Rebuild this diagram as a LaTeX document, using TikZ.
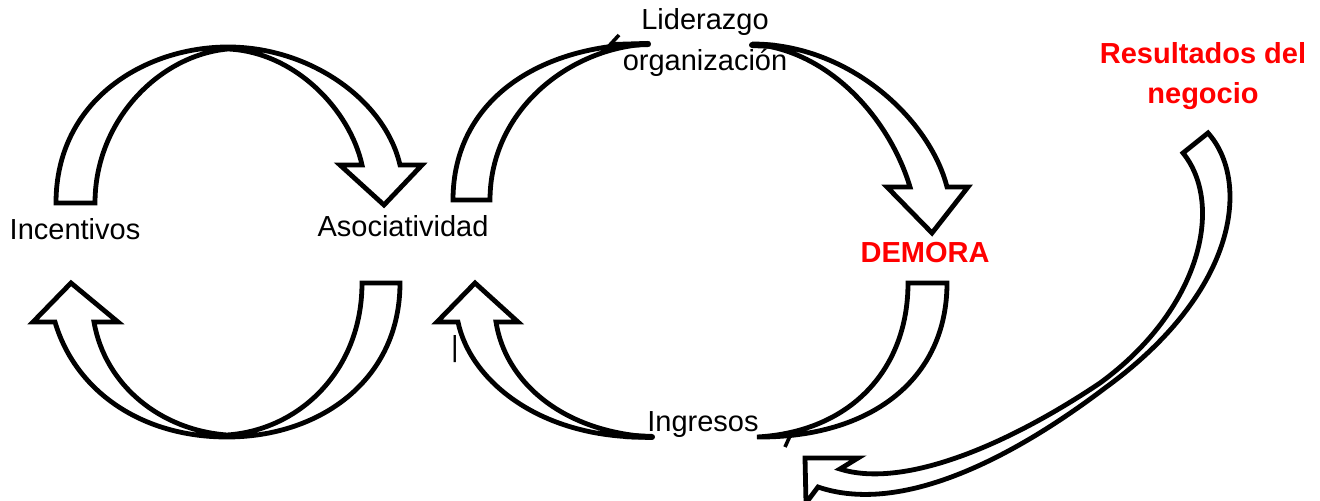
\documentclass[tikz,border=0pt]{standalone}
\usepackage{fontspec}
\setmainfont{Liberation Sans}
\begin{document}
\begin{tikzpicture}[x=0.5pt,y=-0.5pt,
  blockarrow/.style={draw=black,fill=white,line width=2.4pt,line join=miter},
  lbl/.style={font=\fontsize{14.5}{20.5}\selectfont,inner sep=0pt,anchor=base},
  redlbl/.style={lbl,font=\fontsize{14.5}{20}\selectfont\bfseries,text=red}]
\useasboundingbox (0,0) rectangle (1320,501);
\clip (0,0) rectangle (1320,501);
% Arrow 1: Incentivos -> Asociatividad (top left)
\draw[blockarrow] (56,203) .. controls (56,100) and (145,47) .. (228,47)
  .. controls (310,47) and (385,100) .. (400,165) -- (422,165) -- (384,205) -- (340,165) -- (362,165)
  .. controls (350,110) and (295,52) .. (228,49)
  .. controls (160,55) and (95,120) .. (95,203) -- cycle;
% Arrow 2: Asociatividad -> Incentivos (bottom left)
\draw[blockarrow] (400,283) .. controls (400,380) and (320,437) .. (227,437)
  .. controls (140,437) and (75,390) .. (55,322) -- (33,322) -- (71,283) -- (118,322) -- (94,322)
  .. controls (105,385) and (160,430) .. (227,435)
  .. controls (300,430) and (362,370) .. (362,283) -- cycle;
% Arrow 3: Asociatividad -> Liderazgo
\draw[blockarrow] (453,200) .. controls (453,100) and (540,44) .. (650,44)
  .. controls (570,47) and (490,110) .. (490,200) -- cycle;
\draw[line width=1.8pt] (608,47) -- (619,35);
\draw[line width=3pt,line cap=round] (615,45) -- (648,44);
% Arrow 4: Liderazgo -> DEMORA
\draw[blockarrow] (752,44) .. controls (850,44) and (930,120) .. (947,187) -- (968,187) -- (932,233) -- (887,187) -- (910,187)
  .. controls (890,120) and (830,50) .. (752,44) -- cycle;
\draw[line width=3pt,line cap=round] (752,45) -- (775,46);
% Arrow 5: DEMORA -> Ingresos
\draw[blockarrow] (947,283) .. controls (947,380) and (870,438) .. (757,437)
  .. controls (850,432) and (908,370) .. (908,283) -- cycle;
\draw[line width=1.8pt] (790,436) -- (785,447);
% Arrow 6: Ingresos -> Asociatividad
\draw[blockarrow] (652,437) .. controls (540,440) and (470,380) .. (458,322) -- (437,322) -- (475,283) -- (518,322) -- (496,322)
  .. controls (505,380) and (560,432) .. (652,437) -- cycle;
\draw[line width=3pt,line cap=round] (625,436) -- (652,437);
% Arrow 7: Resultados del negocio -> back
\draw[blockarrow] (1208,133) .. controls (1250,180) and (1240,290) .. (1105,388)
  .. controls (1010,460) and (900,515) .. (818,487) -- (806,503) -- (805,458) -- (858,458) -- (840,469)
  .. controls (900,488) and (1000,450) .. (1100,383)
  .. controls (1200,310) and (1225,205) .. (1183,153) -- cycle;
% Labels
\node[lbl] (inc) at (75,240) {Incentivos};
\node[lbl] (aso) at (403,237) {Asociatividad};
\node[lbl] (lid) at (705,30) {Liderazgo};
\node[lbl] (org) at (705,71) {organización};
\node[redlbl] (dem) at (925,263) {DEMORA};
\node[lbl] (ing) at (703,431) {Ingresos};
\node[redlbl] (res1) at (1203,64) {Resultados del};
\node[redlbl] (res2) at (1203,104) {negocio};
\node[lbl] (bar) at (455,357) {|};
\end{tikzpicture}
\end{document}
